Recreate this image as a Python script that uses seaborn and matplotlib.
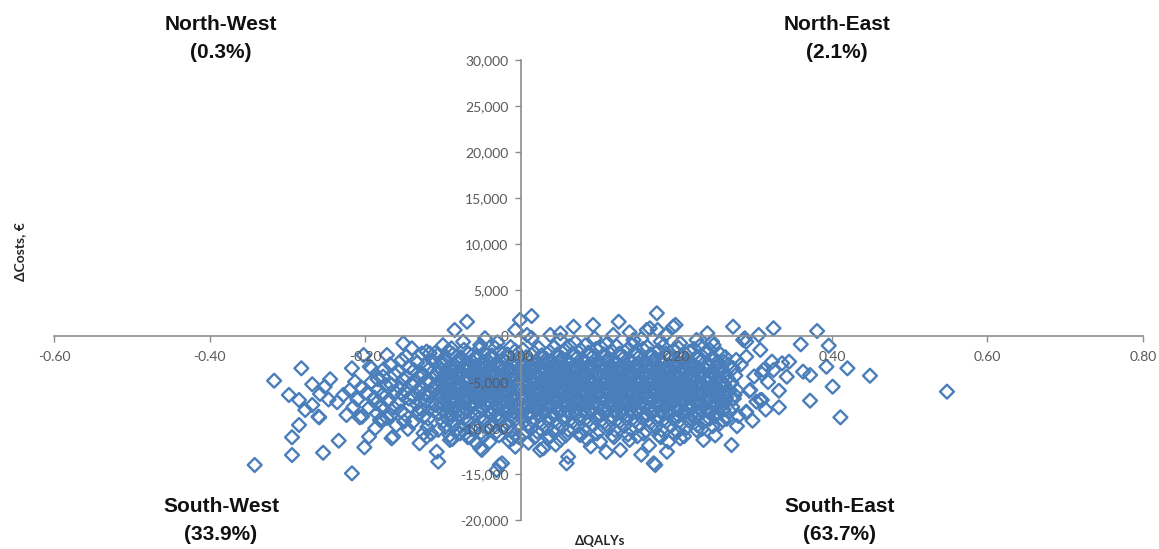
import numpy as np
import pandas as pd
import matplotlib
matplotlib.use("Agg")
import matplotlib.pyplot as plt
from matplotlib.ticker import FuncFormatter
import seaborn as sns

# incremental QALYs / costs per PSA iteration, grouped by quadrant
nw_qaly = [-0.085, -0.069, -0.007, -0.001]
nw_cost = [650, 1550, 650, 1740]

ne_qaly = [0.014, 0.008, 0.038, 0.068, 0.093, 0.119, 0.126, 0.162, 0.175, 0.176,
           0.186, 0.196, 0.199, 0.273, 0.306, 0.325, 0.381, 0.166, 0.051, 0.240,
           0.140]
ne_cost = [2170, 110, 110, 1010, 1200, 110, 1550, 650, 2470, 650,
           110, 1010, 1200, 1010, 110, 840, 540, 840, 300, 300,
           400]

sw_qaly = [
    # scattered points
    -0.282, -0.317, -0.298, -0.285, -0.268, -0.252, -0.258, -0.277, -0.268, -0.259,
    -0.285, -0.294, -0.294, -0.342, -0.254, -0.234, -0.217, -0.201, -0.195, -0.224,
    -0.207, -0.228, -0.217, -0.194, -0.213, -0.202, -0.172, -0.166, -0.181, -0.187,
    -0.177, -0.260, -0.204, -0.192, -0.151, -0.179, -0.108, -0.121, -0.050, -0.027,
    -0.031, -0.003, -0.117, -0.140, -0.121, -0.110, -0.089, -0.074, -0.052, -0.046,
    -0.010, -0.007, -0.024, -0.052, -0.057, -0.078, -0.091, -0.106, -0.130, -0.125,
    -0.164, -0.177, -0.205, -0.198, -0.192, -0.188, -0.183, -0.178, -0.174, -0.186,
    -0.195, -0.171, -0.210, -0.220, -0.184, -0.176, -0.185, -0.172, -0.236, -0.247,
    -0.245, -0.215, -0.030, -0.100, -0.040, -0.065, -0.015,
    # main cloud
    -0.168, -0.162, -0.166, -0.161, -0.169, -0.163, -0.167, -0.160,
    -0.153, -0.157, -0.151, -0.156, -0.152, -0.158, -0.154, -0.150,
    -0.147, -0.143, -0.146, -0.141, -0.148, -0.144, -0.142, -0.149, -0.145,
    -0.133, -0.137, -0.131, -0.136, -0.132, -0.138, -0.134, -0.130, -0.139,
    -0.127, -0.123, -0.126, -0.121, -0.128, -0.124, -0.122, -0.129, -0.125, -0.120,
    -0.113, -0.117, -0.111, -0.116, -0.112, -0.118, -0.114, -0.110, -0.119, -0.115,
    -0.107, -0.103, -0.106, -0.101, -0.108, -0.104, -0.102, -0.109, -0.105, -0.100, -0.106,
    -0.093, -0.097, -0.091, -0.096, -0.092, -0.098, -0.094, -0.090, -0.099, -0.095, -0.093, -0.097, -0.091,
    -0.087, -0.083, -0.086, -0.081, -0.088, -0.084, -0.082, -0.089, -0.085, -0.080, -0.086, -0.083, -0.088,
    -0.073, -0.077, -0.071, -0.076, -0.072, -0.078, -0.074, -0.070, -0.079, -0.075, -0.073, -0.077, -0.071,
    -0.067, -0.063, -0.066, -0.061, -0.068, -0.064, -0.062, -0.069, -0.065, -0.060, -0.066, -0.063, -0.068,
    -0.053, -0.057, -0.051, -0.056, -0.052, -0.058, -0.054, -0.050, -0.059, -0.055, -0.053, -0.057, -0.051,
    -0.047, -0.043, -0.046, -0.041, -0.048, -0.044, -0.042, -0.049, -0.045, -0.040, -0.046, -0.043, -0.048,
    -0.033, -0.037, -0.031, -0.036, -0.032, -0.038, -0.034, -0.030, -0.039, -0.035, -0.033, -0.037, -0.031,
    -0.027, -0.023, -0.026, -0.021, -0.028, -0.024, -0.022, -0.029, -0.025, -0.020, -0.026, -0.023, -0.028,
    -0.013, -0.017, -0.011, -0.016, -0.012, -0.018, -0.014, -0.010, -0.019, -0.015, -0.013, -0.017, -0.011,
    -0.007, -0.003, -0.006, -0.001, -0.008, -0.004, -0.002, -0.009, -0.005, -0.002, -0.006, -0.003, -0.008,
    -0.099, -0.102, -0.098, -0.101, -0.100, -0.098, -0.102, -0.099,
    -0.089, -0.092, -0.088, -0.091, -0.090, -0.088, -0.092, -0.089,
    -0.079, -0.082, -0.078, -0.081, -0.080, -0.078, -0.082, -0.079,
    -0.069, -0.072, -0.068, -0.071, -0.070, -0.068, -0.072, -0.069,
    -0.059, -0.062, -0.058, -0.061, -0.060, -0.058, -0.062, -0.059,
    -0.049, -0.052, -0.048, -0.051, -0.050, -0.048, -0.052, -0.049,
    -0.039, -0.042, -0.038, -0.041, -0.040, -0.038, -0.042, -0.039,
    -0.029, -0.032, -0.028, -0.031, -0.030, -0.028, -0.032, -0.029,
    -0.019, -0.022, -0.018, -0.021, -0.020, -0.018, -0.022, -0.019,
    -0.009, -0.012, -0.008, -0.011, -0.010, -0.008, -0.012, -0.009,
]
sw_cost = [
    -3510, -4860, -6410, -6960, -5250, -5510, -6300, -8040, -7500, -8840,
    -9670, -11010, -12940, -14020, -12690, -11380, -14930, -12100, -10950, -8590,
    -8840, -6410, -3510, -3340, -4970, -2070, -2070, -11120, -9130, -10030,
    -4420, -8770, -8770, -3510, -790, -7690, -12580, -10950, -12390, -14020,
    -14570, -10950, -1880, -1340, -1700, -1850, -1340, -620, -980, -250,
    -11120, -12030, -13840, -12200, -11660, -10580, -11300, -13660, -11660, -10580,
    -10950, -9130, -5600, -6200, -5000, -6700, -5800, -6400, -5300, -7300,
    -7800, -7100, -6900, -5900, -4700, -3600, -8400, -8900, -7200, -6900,
    -4700, -7700, -700, -1000, -11500, -11000, -11400,
    -3100, -4200, -5300, -6100, -6900, -7800, -8600, -9700,
    -2600, -3900, -4700, -5600, -6400, -7300, -8200, -9300,
    -2200, -3400, -4500, -5200, -6000, -6800, -7600, -8500, -10100,
    -2900, -3700, -4400, -5100, -5900, -6600, -7400, -8300, -9400,
    -1900, -3200, -4100, -4800, -5500, -6300, -7100, -7900, -8800, -9900,
    -2700, -3500, -4300, -5000, -5800, -6500, -7300, -8100, -9000, -10600,
    -2100, -3000, -3800, -4600, -5300, -6000, -6700, -7500, -8400, -9300, -10200,
    -1600, -2500, -3300, -4000, -4700, -5400, -6100, -6800, -7500, -8300, -9100, -9900, -10800,
    -2000, -2800, -3600, -4300, -5000, -5700, -6400, -7100, -7900, -8700, -9500, -10300, -11200,
    -1500, -2300, -3100, -3900, -4600, -5300, -6000, -6700, -7400, -8200, -9000, -9800, -10600,
    -1900, -2700, -3500, -4200, -4900, -5600, -6300, -7000, -7700, -8500, -9300, -10100, -11000,
    -1400, -2200, -3000, -3800, -4500, -5200, -5900, -6600, -7300, -8100, -8900, -9700, -10500,
    -1800, -2600, -3400, -4100, -4800, -5500, -6200, -6900, -7600, -8400, -9200, -10000, -10900,
    -1300, -2100, -2900, -3700, -4400, -5100, -5800, -6500, -7200, -8000, -8800, -9600, -10400,
    -1700, -2500, -3300, -4000, -4700, -5400, -6100, -6800, -7500, -8300, -9100, -9900, -10800,
    -1200, -2000, -2800, -3600, -4300, -5000, -5700, -6400, -7100, -7900, -8700, -9500, -10300,
    -1600, -2400, -3200, -3900, -4600, -5300, -6000, -6700, -7400, -8200, -9000, -9800, -10700,
    -3000, -3700, -4400, -5100, -5800, -6500, -7300, -8200,
    -3300, -4000, -4700, -5400, -6100, -6800, -7600, -8500,
    -2800, -3500, -4300, -5000, -5700, -6400, -7100, -8000,
    -3000, -3700, -4400, -5100, -5800, -6500, -7300, -8200,
    -3300, -4000, -4700, -5400, -6100, -6800, -7600, -8500,
    -2800, -3500, -4300, -5000, -5700, -6400, -7100, -8000,
    -3000, -3700, -4400, -5100, -5800, -6500, -7300, -8200,
    -3300, -4000, -4700, -5400, -6100, -6800, -7600, -8500,
    -2800, -3500, -4300, -5000, -5700, -6400, -7100, -8000,
    -3000, -3700, -4400, -5100, -5800, -6500, -7300, -8200,
]

se_qaly = [
    # scattered points
    0.360, 0.396, 0.393, 0.420, 0.449, 0.548, 0.401, 0.372, 0.411, 0.332,
    0.332, 0.363, 0.372, 0.342, 0.336, 0.345, 0.323, 0.312, 0.310, 0.290,
    0.294, 0.290, 0.308, 0.246, 0.288, 0.271, 0.171, 0.128, 0.029, 0.059,
    0.014, 0.051, 0.145, 0.205, 0.226, 0.248, 0.286, 0.308, 0.290, 0.325,
    0.295, 0.303, 0.290, 0.260, 0.226, 0.205, 0.188, 0.173, 0.102, 0.076,
    0.061, 0.051, 0.025, 0.035, 0.140, 0.165, 0.210, 0.120, 0.090, 0.190,
    0.250, 0.278, 0.300, 0.283, 0.318, 0.310, 0.275, 0.280, 0.298, 0.315,
    0.070, 0.110, 0.180, 0.230, 0.155, 0.095, 0.010, 0.045, 0.085, 0.150,
    0.180, 0.235, 0.110, 0.155,
    # main cloud
    0.003, 0.007, 0.004, 0.008, 0.002, 0.006, 0.009, 0.003, 0.007, 0.005, 0.002, 0.008, 0.004,
    0.017, 0.013, 0.016, 0.011, 0.018, 0.014, 0.012, 0.019, 0.015, 0.010, 0.016, 0.013, 0.018,
    0.023, 0.027, 0.021, 0.026, 0.022, 0.028, 0.024, 0.020, 0.029, 0.025, 0.023, 0.027, 0.021,
    0.037, 0.033, 0.036, 0.031, 0.038, 0.034, 0.032, 0.039, 0.035, 0.030, 0.036, 0.033, 0.038,
    0.043, 0.047, 0.041, 0.046, 0.042, 0.048, 0.044, 0.040, 0.049, 0.045, 0.043, 0.047, 0.041,
    0.057, 0.053, 0.056, 0.051, 0.058, 0.054, 0.052, 0.059, 0.055, 0.050, 0.056, 0.053, 0.058,
    0.063, 0.067, 0.061, 0.066, 0.062, 0.068, 0.064, 0.060, 0.069, 0.065, 0.063, 0.067, 0.061,
    0.077, 0.073, 0.076, 0.071, 0.078, 0.074, 0.072, 0.079, 0.075, 0.070, 0.076, 0.073, 0.078,
    0.083, 0.087, 0.081, 0.086, 0.082, 0.088, 0.084, 0.080, 0.089, 0.085, 0.083, 0.087, 0.081,
    0.097, 0.093, 0.096, 0.091, 0.098, 0.094, 0.092, 0.099, 0.095, 0.090, 0.096, 0.093, 0.098,
    0.103, 0.107, 0.101, 0.106, 0.102, 0.108, 0.104, 0.100, 0.109, 0.105, 0.103, 0.107, 0.101,
    0.117, 0.113, 0.116, 0.111, 0.118, 0.114, 0.112, 0.119, 0.115, 0.110, 0.116, 0.113, 0.118,
    0.123, 0.127, 0.121, 0.126, 0.122, 0.128, 0.124, 0.120, 0.129, 0.125, 0.123, 0.127, 0.121,
    0.137, 0.133, 0.136, 0.131, 0.138, 0.134, 0.132, 0.139, 0.135, 0.130, 0.136, 0.133, 0.138,
    0.143, 0.147, 0.141, 0.146, 0.142, 0.148, 0.144, 0.140, 0.149, 0.145, 0.143, 0.147, 0.141,
    0.157, 0.153, 0.156, 0.151, 0.158, 0.154, 0.152, 0.159, 0.155, 0.150, 0.156, 0.153, 0.158,
    0.163, 0.167, 0.161, 0.166, 0.162, 0.168, 0.164, 0.160, 0.169, 0.165, 0.163, 0.167, 0.161,
    0.177, 0.173, 0.176, 0.171, 0.178, 0.174, 0.172, 0.179, 0.175, 0.170, 0.176, 0.173, 0.178,
    0.183, 0.187, 0.181, 0.186, 0.182, 0.188, 0.184, 0.180, 0.189, 0.185, 0.183, 0.187, 0.181,
    0.197, 0.193, 0.196, 0.191, 0.198, 0.194, 0.192, 0.199, 0.195, 0.190, 0.196, 0.193, 0.198,
    0.203, 0.207, 0.201, 0.206, 0.202, 0.208, 0.204, 0.200, 0.209, 0.205, 0.203, 0.207, 0.201,
    0.217, 0.213, 0.216, 0.211, 0.218, 0.214, 0.212, 0.219, 0.215, 0.210, 0.216, 0.213,
    0.223, 0.227, 0.221, 0.226, 0.222, 0.228, 0.224, 0.220, 0.229, 0.225, 0.223, 0.227,
    0.237, 0.233, 0.236, 0.231, 0.238, 0.234, 0.232, 0.239, 0.235, 0.230, 0.236, 0.233,
    0.243, 0.247, 0.241, 0.246, 0.242, 0.248, 0.244, 0.240, 0.249, 0.245, 0.243, 0.247,
    0.257, 0.253, 0.256, 0.251, 0.258, 0.254, 0.252, 0.259, 0.255, 0.250, 0.256,
    0.263, 0.267, 0.261, 0.266, 0.262, 0.268, 0.264, 0.260, 0.269, 0.265,
    0.277, 0.273, 0.276, 0.271, 0.278, 0.274, 0.272,
    0.011, 0.008, 0.012, 0.009, 0.010, 0.012, 0.008, 0.011,
    0.021, 0.018, 0.022, 0.019, 0.020, 0.022, 0.018, 0.021,
    0.031, 0.028, 0.032, 0.029, 0.030, 0.032, 0.028, 0.031,
    0.041, 0.038, 0.042, 0.039, 0.040, 0.042, 0.038, 0.041,
    0.051, 0.048, 0.052, 0.049, 0.050, 0.052, 0.048, 0.051,
    0.061, 0.058, 0.062, 0.059, 0.060, 0.062, 0.058, 0.061,
    0.071, 0.068, 0.072, 0.069, 0.070, 0.072, 0.068, 0.071,
    0.081, 0.078, 0.082, 0.079, 0.080, 0.082, 0.078, 0.081,
    0.091, 0.088, 0.092, 0.089, 0.090, 0.092, 0.088, 0.091,
    0.101, 0.098, 0.102, 0.099, 0.100, 0.102, 0.098, 0.101,
    0.111, 0.108, 0.112, 0.109, 0.110, 0.112, 0.108, 0.111,
    0.121, 0.118, 0.122, 0.119, 0.120, 0.122, 0.118, 0.121,
    0.131, 0.128, 0.132, 0.129, 0.130, 0.132, 0.128, 0.131,
    0.141, 0.138, 0.142, 0.139, 0.140, 0.142, 0.138, 0.141,
    0.151, 0.148, 0.152, 0.149, 0.150, 0.152, 0.148, 0.151,
    0.161, 0.158, 0.162, 0.159, 0.160, 0.162, 0.158, 0.161,
    0.171, 0.168, 0.172, 0.169, 0.170, 0.172, 0.168, 0.171,
    0.181, 0.178, 0.182, 0.179, 0.180, 0.182, 0.178, 0.181,
    0.191, 0.188, 0.192, 0.189, 0.190, 0.192, 0.188, 0.191,
    0.201, 0.198, 0.202, 0.199, 0.200, 0.202, 0.198, 0.201,
    0.211, 0.208, 0.212, 0.209, 0.210, 0.212, 0.208, 0.211,
    0.221, 0.218, 0.222, 0.219, 0.220, 0.222, 0.218, 0.221,
    0.231, 0.228, 0.232, 0.229, 0.230, 0.232, 0.228, 0.231,
    0.241, 0.238, 0.242, 0.239, 0.240, 0.242, 0.238, 0.241,
    0.251, 0.248, 0.252, 0.249, 0.250, 0.252, 0.248, 0.251,
    0.261, 0.258, 0.262, 0.259, 0.260, 0.262, 0.258, 0.261,
]
se_cost = [
    -900, -1050, -3340, -3510, -4320, -6050, -5510, -7030, -8840, -7750,
    -5950, -3880, -4240, -4420, -2970, -2790, -2790, -3700, -6960, -620,
    -5950, -8340, -6960, -620, -250, -11850, -13840, -12390, -12210, -13840,
    -220, -435, -435, -790, -435, -980, -435, -1520, -2250, -3700,
    -5870, -7140, -8230, -9130, -10220, -11120, -12580, -14020, -11490, -10760,
    -13120, -11300, -12390, -11000, -11300, -11900, -10900, -11000, -12000, -11500,
    -10800, -9800, -4400, -3100, -5000, -4100, -6400, -8700, -9200, -8000,
    -700, -900, -600, -1100, -300, -250, -11600, -11800, -11200, -10900,
    -11000, -11300, -12600, -12900,
    -1500, -2300, -3100, -3800, -4500, -5200, -5900, -6600, -7300, -8100, -8900, -9700, -10600,
    -1800, -2700, -3500, -4200, -4900, -5600, -6300, -7000, -7700, -8500, -9300, -10100, -11000,
    -1300, -2100, -2900, -3600, -4300, -5000, -5700, -6400, -7100, -7900, -8700, -9500, -10400,
    -1700, -2500, -3300, -4000, -4700, -5400, -6100, -6800, -7600, -8400, -9200, -10000, -10900,
    -1200, -2000, -2800, -3500, -4200, -4900, -5600, -6300, -7000, -7800, -8600, -9400, -10300,
    -1600, -2400, -3200, -3900, -4600, -5300, -6000, -6700, -7500, -8300, -9100, -9900, -10800,
    -1100, -1900, -2700, -3400, -4100, -4800, -5500, -6200, -6900, -7700, -8500, -9300, -10200,
    -1500, -2300, -3100, -3800, -4500, -5200, -5900, -6600, -7400, -8200, -9000, -9800, -10700,
    -1000, -1800, -2600, -3300, -4000, -4700, -5400, -6100, -6800, -7600, -8400, -9200, -10100,
    -1400, -2200, -3000, -3700, -4400, -5100, -5800, -6500, -7300, -8100, -8900, -9700, -10600,
    -1200, -2000, -2800, -3500, -4200, -4900, -5600, -6300, -7000, -7800, -8600, -9400, -10300,
    -1600, -2400, -3200, -3900, -4600, -5300, -6000, -6700, -7500, -8300, -9100, -9900, -10800,
    -1100, -1900, -2700, -3400, -4100, -4800, -5500, -6200, -6900, -7700, -8500, -9300, -10200,
    -1500, -2300, -3100, -3800, -4500, -5200, -5900, -6600, -7400, -8200, -9000, -9800, -10700,
    -1000, -1800, -2600, -3300, -4000, -4700, -5400, -6100, -6800, -7600, -8400, -9200, -10100,
    -1400, -2200, -3000, -3700, -4400, -5100, -5800, -6500, -7300, -8100, -8900, -9700, -10600,
    -1200, -2000, -2800, -3500, -4200, -4900, -5600, -6300, -7000, -7800, -8600, -9400, -10300,
    -1600, -2400, -3200, -3900, -4600, -5300, -6000, -6700, -7500, -8300, -9100, -9900, -10800,
    -1100, -1900, -2700, -3400, -4100, -4800, -5500, -6200, -6900, -7700, -8500, -9300, -10200,
    -1500, -2300, -3100, -3800, -4500, -5200, -5900, -6600, -7400, -8200, -9000, -9800, -10700,
    -1300, -2100, -2900, -3600, -4300, -5000, -5700, -6400, -7100, -7900, -8700, -9500, -10400,
    -1700, -2500, -3300, -4000, -4700, -5400, -6100, -6800, -7600, -8400, -9200, -10000,
    -1400, -2200, -3000, -3700, -4400, -5100, -5800, -6500, -7300, -8100, -8900, -9700,
    -1800, -2600, -3400, -4100, -4800, -5500, -6200, -6900, -7700, -8500, -9300, -10100,
    -1500, -2300, -3100, -3800, -4500, -5200, -5900, -6600, -7400, -8200, -9000, -9800,
    -2000, -2800, -3600, -4300, -5000, -5700, -6400, -7100, -7900, -8700, -9500,
    -2300, -3100, -3900, -4600, -5300, -6000, -6700, -7400, -8200, -9000,
    -2600, -3500, -4300, -5100, -5900, -6800, -7700,
    -3300, -4000, -4700, -5400, -6100, -6800, -7600, -8500,
    -2800, -3500, -4300, -5000, -5700, -6400, -7100, -8000,
    -3000, -3700, -4400, -5100, -5800, -6500, -7300, -8200,
    -3300, -4000, -4700, -5400, -6100, -6800, -7600, -8500,
    -2800, -3500, -4300, -5000, -5700, -6400, -7100, -8000,
    -3000, -3700, -4400, -5100, -5800, -6500, -7300, -8200,
    -3300, -4000, -4700, -5400, -6100, -6800, -7600, -8500,
    -2800, -3500, -4300, -5000, -5700, -6400, -7100, -8000,
    -3000, -3700, -4400, -5100, -5800, -6500, -7300, -8200,
    -3300, -4000, -4700, -5400, -6100, -6800, -7600, -8500,
    -2800, -3500, -4300, -5000, -5700, -6400, -7100, -8000,
    -3000, -3700, -4400, -5100, -5800, -6500, -7300, -8200,
    -3300, -4000, -4700, -5400, -6100, -6800, -7600, -8500,
    -2800, -3500, -4300, -5000, -5700, -6400, -7100, -8000,
    -3000, -3700, -4400, -5100, -5800, -6500, -7300, -8200,
    -3300, -4000, -4700, -5400, -6100, -6800, -7600, -8500,
    -2800, -3500, -4300, -5000, -5700, -6400, -7100, -8000,
    -3000, -3700, -4400, -5100, -5800, -6500, -7300, -8200,
    -3300, -4000, -4700, -5400, -6100, -6800, -7600, -8500,
    -2800, -3500, -4300, -5000, -5700, -6400, -7100, -8000,
    -3000, -3700, -4400, -5100, -5800, -6500, -7300, -8200,
    -3300, -4000, -4700, -5400, -6100, -6800, -7600, -8500,
    -2800, -3500, -4300, -5000, -5700, -6400, -7100, -8000,
    -3000, -3700, -4400, -5100, -5800, -6500, -7300, -8200,
    -3300, -4000, -4700, -5400, -6100, -6800, -7600, -8500,
    -2800, -3500, -4300, -5000, -5700, -6400, -7100, -8000,
]

quadrant_names = ["North-West", "North-East", "South-West", "South-East"]
quadrant_shares = ["(0.3%)", "(2.1%)", "(33.9%)", "(63.7%)"]

x_ticks = [-0.60, -0.40, -0.20, 0.00, 0.20, 0.40, 0.60, 0.80]
y_ticks = [-20000, -15000, -10000, -5000, 0, 5000, 10000, 15000, 20000, 25000, 30000]

BLUE = "#4A7EBB"
AXIS_GREY = "#8C8C8C"

df = pd.concat([
    pd.DataFrame({"dqaly": nw_qaly, "dcost": nw_cost, "quadrant": "NW"}),
    pd.DataFrame({"dqaly": ne_qaly, "dcost": ne_cost, "quadrant": "NE"}),
    pd.DataFrame({"dqaly": sw_qaly, "dcost": sw_cost, "quadrant": "SW"}),
    pd.DataFrame({"dqaly": se_qaly, "dcost": se_cost, "quadrant": "SE"}),
], ignore_index=True)

sns.set_theme(style="white")
plt.rcParams["font.family"] = ["Lato", "DejaVu Sans"]

fig = plt.figure(figsize=(11.59, 5.49), dpi=100)
ax = fig.add_axes([54 / 1159, 29 / 549, 1089 / 1159, 460 / 549])

sns.scatterplot(data=df, x="dqaly", y="dcost", marker="D", s=50,
                color=BLUE, edgecolor=BLUE, linewidth=1.7, legend=False, ax=ax)
ax.collections[0].set_facecolor("none")
# Excel draws the axes and their labels on top of the points
ax.set_axisbelow(False)

ax.set_xlim(-0.6, 0.8)
ax.set_ylim(-20000, 30000)
ax.set_xticks(x_ticks)
ax.set_yticks(y_ticks)
ax.xaxis.set_major_formatter(FuncFormatter(lambda v, _: f"{round(v, 2) + 0:.2f}"))
ax.yaxis.set_major_formatter(FuncFormatter(lambda v, _: f"{v:,.0f}"))

for side in ["top", "right"]:
    ax.spines[side].set_visible(False)
for side in ["left", "bottom"]:
    ax.spines[side].set_position(("data", 0))
    ax.spines[side].set_color(AXIS_GREY)
    ax.spines[side].set_linewidth(1.2)
    ax.spines[side].set_zorder(3)

ax.tick_params(axis="both", bottom=True, left=True, direction="out", length=4,
               width=1, color=AXIS_GREY, labelcolor="#595959", labelsize=10)
ax.tick_params(axis="x", pad=7)
ax.tick_params(axis="y", pad=5)
ax.set_xlabel("")
ax.set_ylabel("")
ax.grid(False)

# axis titles
fig.text(600 / 1159, 1 - 541 / 549, "ΔQALYs", ha="center", va="center",
         fontsize=9.5, fontweight="bold", color="#262626")
fig.text(20 / 1159, 1 - 252 / 549, "ΔCosts, €", ha="center", va="center",
         rotation=90, fontsize=10, fontweight="bold", color="#262626")

# quadrant labels
label_pos = [(221, 25), (837, 25), (221, 506), (840, 506)]
for (px, py), name, share in zip(label_pos, quadrant_names, quadrant_shares):
    fig.text(px / 1159, 1 - py / 549, name, ha="center", va="center",
             fontsize=15, fontweight="bold", family="Liberation Sans", color="#111111")
    fig.text(px / 1159, 1 - (py + 28) / 549, share, ha="center", va="center",
             fontsize=15, fontweight="bold", family="Liberation Sans", color="#111111")

fig.savefig("out.png", dpi=100)
plt.close(fig)
